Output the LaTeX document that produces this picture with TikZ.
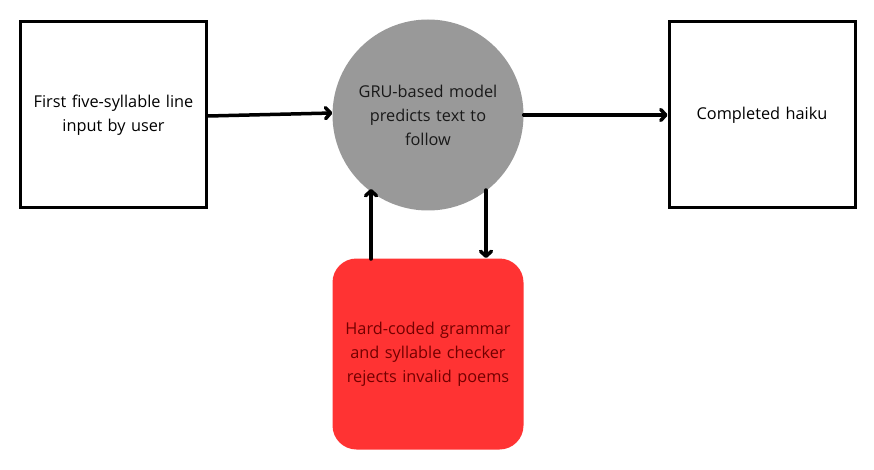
\documentclass[tikz,border=0pt]{standalone}
\usepackage{fontspec}
\setmainfont{Open Sans}
\usetikzlibrary{arrows.meta}
\definecolor{modelgray}{HTML}{999999}
\definecolor{checkred}{HTML}{FF3333}
\begin{document}
\begin{tikzpicture}[
            x=1pt, y=-1pt,
            font=\fontsize{16.3}{24}\selectfont,
            box/.style={draw, line width=3pt, minimum width=186pt, minimum height=186pt,
                align=center, text width=180pt, inner sep=0pt},
            model/.style={circle, fill=modelgray, minimum size=191pt, inner sep=0pt,
                align=center, text width=170pt, text=black!90},
            checker/.style={rounded corners=24pt, fill=checkred, minimum width=191pt,
                minimum height=191pt, inner sep=0pt, align=center, text width=185pt,
                text=red!45!black},
            link/.style={line width=3.5pt, line cap=round, -{Straight Barb[round, length=5pt, width=11pt]}}
        ]
            \useasboundingbox (0,0) rectangle (874,470);
            % the four stages
            \node[box] (first) at (113.5,115) {First five-syllable line\\input by user};
            \node[model] (model) at (428,115) {GRU-based model\\predicts text to\\follow};
            \node[box] (haiku) at (762,115) {Completed haiku};
            \node[checker] (checker) at (428,354) {Hard-coded grammar\\and syllable checker\\rejects invalid poems};

            % flow between them
            \draw[link] (first.east |- 0,116) -- (model.west |- 0,113);
            \draw[link] (model.east) -- (haiku.west);
            \coordinate (upfoot) at (371,259);
            \coordinate (uptip) at (371,189);
            \coordinate (downfoot) at (486,190);
            \coordinate (downtip) at (486,258);
            \draw[link] (upfoot) -- (uptip);
            \draw[link] (downfoot) -- (downtip);
        \end{tikzpicture}
\end{document}
